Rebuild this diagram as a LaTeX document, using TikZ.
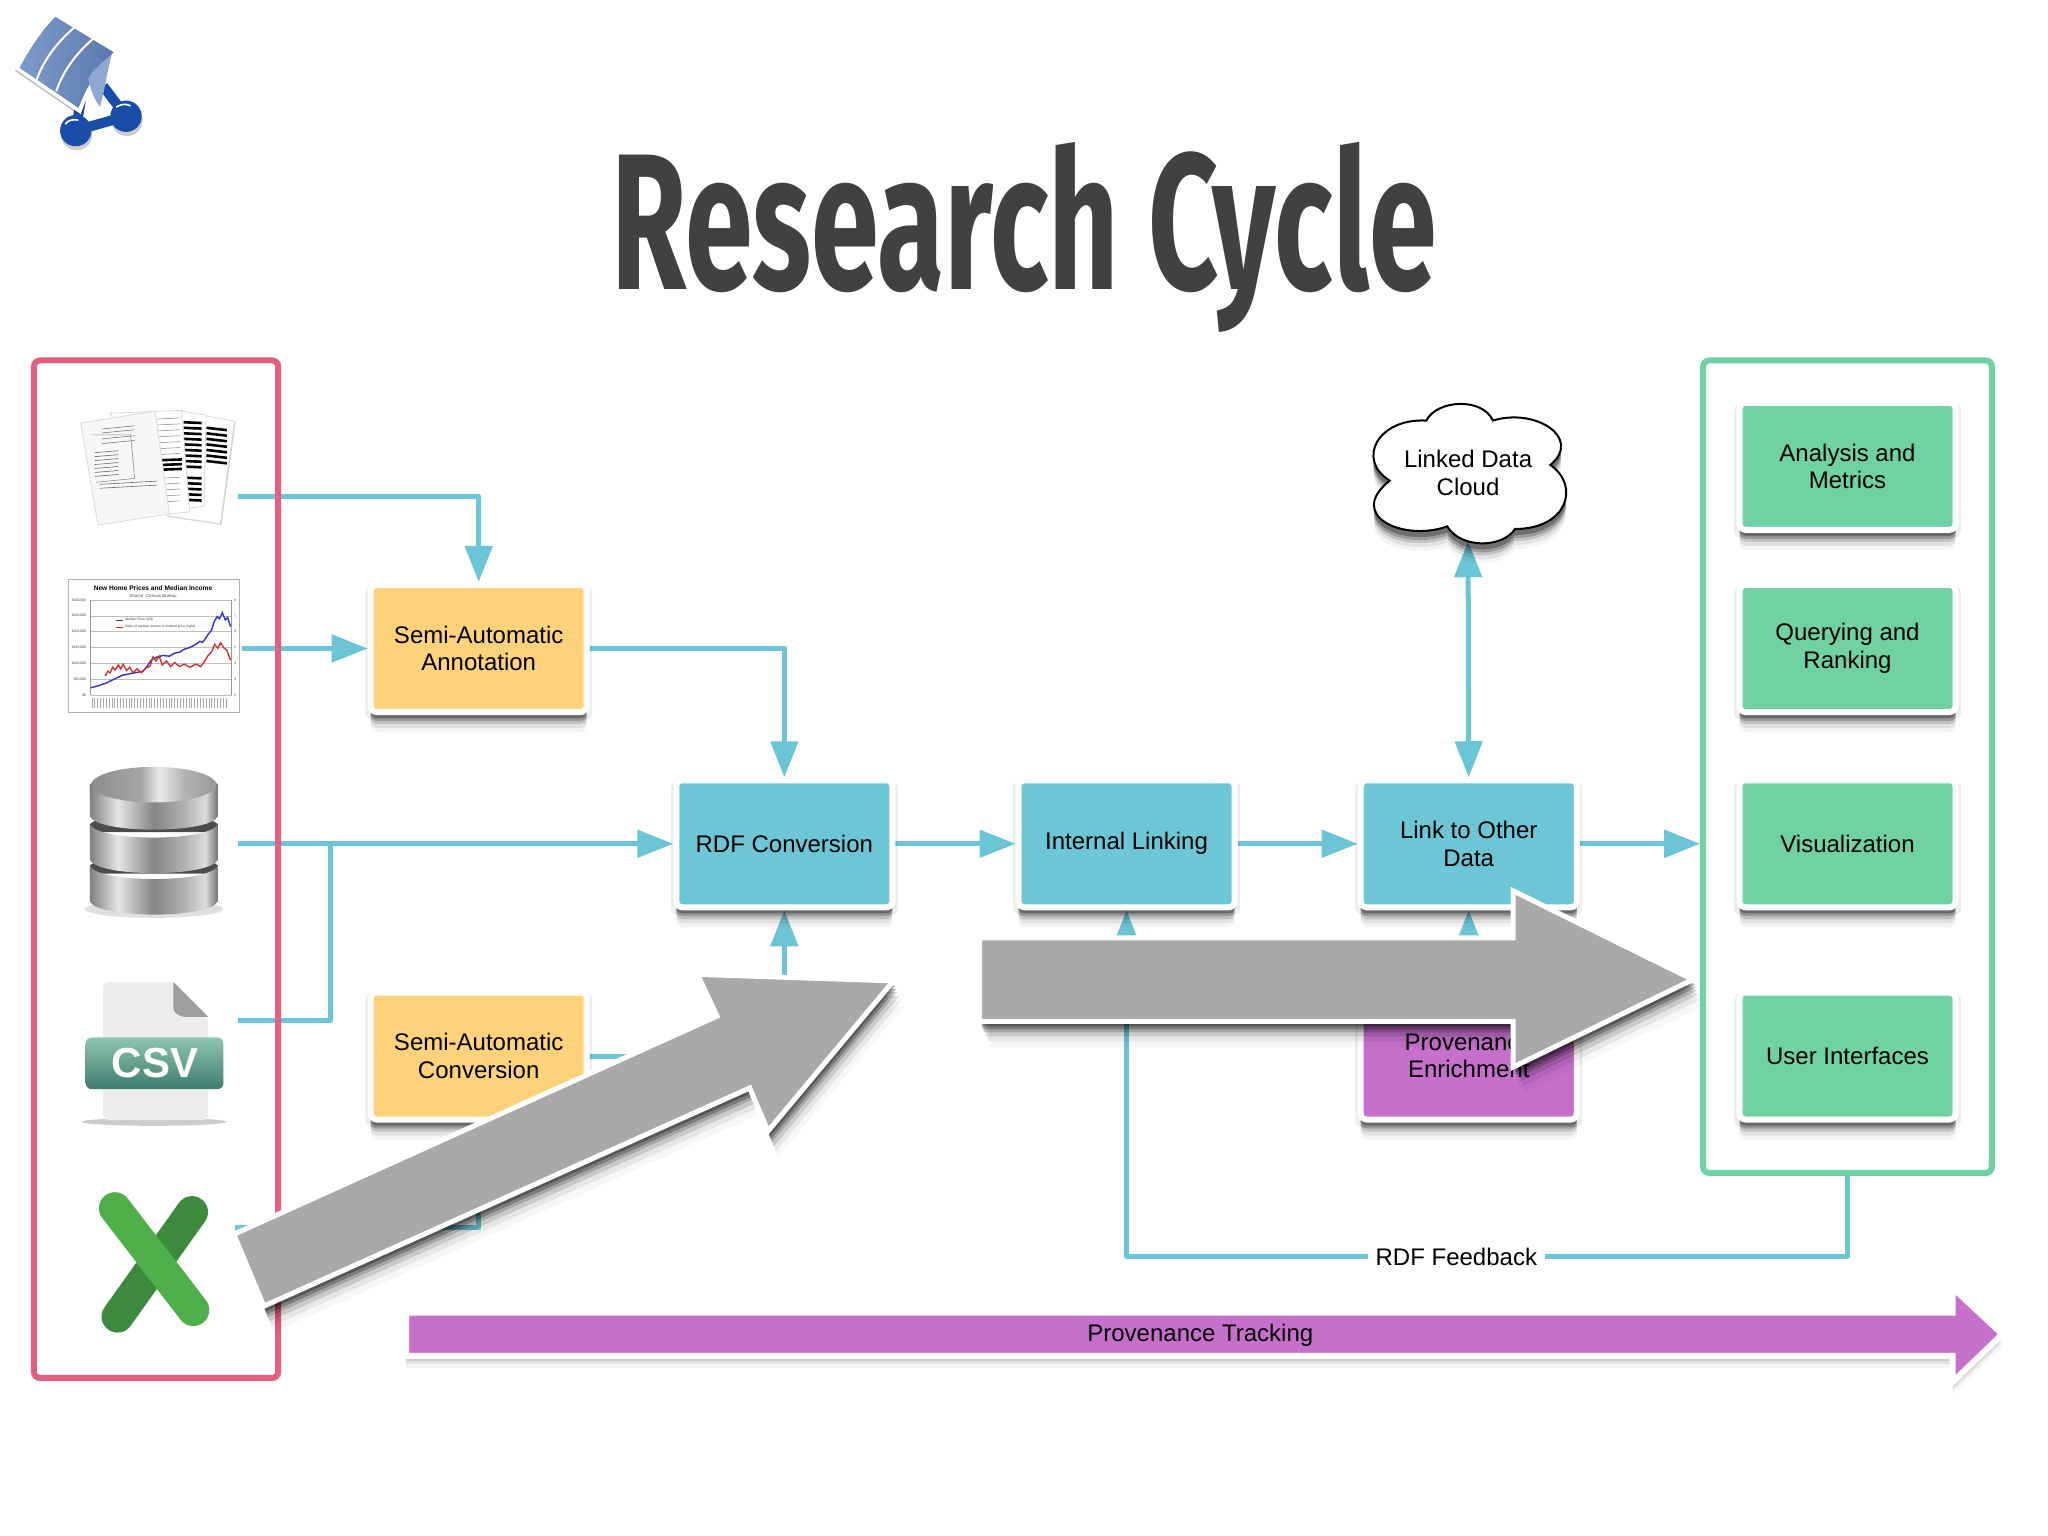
\documentclass[tikz,border=0pt]{standalone}
\usepackage{fontspec}
\setmainfont{Liberation Sans}
\newfontfamily\titlefont{Fira Sans}
\usetikzlibrary{arrows.meta,shadows}
\definecolor{linkcol}{HTML}{6CC5D6}
\definecolor{redframe}{HTML}{E2607F}
\definecolor{greenbox}{HTML}{70D2A3}
\definecolor{yellowbox}{HTML}{FDD27B}
\definecolor{bluebox}{HTML}{6DC6D6}
\definecolor{purplebox}{HTML}{C670CC}
\definecolor{bigarrow}{HTML}{A9A9AB}
\definecolor{titlecol}{HTML}{414042}
\definecolor{logoblue}{HTML}{1A4DA8}
\definecolor{logoleft}{HTML}{5B79AF}
\definecolor{logoright}{HTML}{7E9BCB}
\definecolor{logofold}{HTML}{8FA8D3}
\definecolor{csvtop}{HTML}{8FC4B0}
\definecolor{csvbot}{HTML}{3E7C6E}
\definecolor{xllight}{HTML}{4FB04B}
\definecolor{xldark}{HTML}{3C8A3E}
\pgfdeclarelayer{conn}
\pgfsetlayers{conn,main}
\pgfdeclarehorizontalshading{metal}{100bp}{color(0bp)=(black!50); color(25bp)=(black!50); color(36bp)=(black!10); color(50bp)=(black!48); color(62bp)=(black!30); color(70bp)=(black!14); color(75bp)=(black!55); color(100bp)=(black!55)}
\pgfdeclarehorizontalshading{metaltop}{100bp}{color(0bp)=(black!45); color(25bp)=(black!45); color(45bp)=(black!35); color(52bp)=(black!8); color(62bp)=(black!30); color(75bp)=(black!40); color(100bp)=(black!40)}
\tikzset{
    soft shadow/.style={
        drop shadow={shadow xshift=0pt,shadow yshift=-3pt,opacity=.28,fill=black},
        drop shadow={shadow xshift=0pt,shadow yshift=-4.5pt,opacity=.2,fill=black},
        drop shadow={shadow xshift=0pt,shadow yshift=-6pt,opacity=.14,fill=black},
        drop shadow={shadow xshift=0pt,shadow yshift=-8pt,opacity=.08,fill=black},
        drop shadow={shadow xshift=0pt,shadow yshift=-10pt,opacity=.04,fill=black}},
    light shadow/.style={
        drop shadow={shadow xshift=0pt,shadow yshift=-2.5pt,opacity=.1,fill=black},
        drop shadow={shadow xshift=0pt,shadow yshift=-4pt,opacity=.08,fill=black},
        drop shadow={shadow xshift=0pt,shadow yshift=-6pt,opacity=.04,fill=black}},
    arrow shadow/.style={
        drop shadow={shadow xshift=1pt,shadow yshift=-2.5pt,opacity=.3,fill=black},
        drop shadow={shadow xshift=1.5pt,shadow yshift=-4pt,opacity=.25,fill=black},
        drop shadow={shadow xshift=2pt,shadow yshift=-5.5pt,opacity=.18,fill=black},
        drop shadow={shadow xshift=3pt,shadow yshift=-7.5pt,opacity=.12,fill=black},
        drop shadow={shadow xshift=4pt,shadow yshift=-10pt,opacity=.07,fill=black},
        drop shadow={shadow xshift=5pt,shadow yshift=-13pt,opacity=.03,fill=black}},
    box/.style={rectangle,rounded corners=3pt,draw=white,line width=3pt,
        minimum width=108pt,minimum height=63.5pt,align=center,
        drop shadow={shadow scale=1.05,shadow xshift=0pt,shadow yshift=-2pt,opacity=.07,fill=black},
        soft shadow,font=\fontsize{12}{13.8}\selectfont},
    frame/.style={rectangle,rounded corners=3pt,line width=3pt},
    conn/.style={draw=linkcol,line width=2.5pt,line join=round},
    tip/.style={-{Triangle[length=18pt,width=13.5pt]}},
    big/.style={fill=bigarrow,draw=white,line width=2.5pt,arrow shadow},
    tiny/.style={inner sep=0pt,text=black!75,font=\fontsize{1.7}{2}\selectfont},
}
\begin{document}
\begin{tikzpicture}[x=.653pt,y=-.653pt]
    \useasboundingbox (0,0) rectangle (1568,1176);

    % logo
    \draw[logoblue,line width=5pt] (58,100) -- (96.5,89) (58,100) -- (64,64) (96.5,89) -- (79,66);
    \fill[logoblue,drop shadow={shadow xshift=.5pt,shadow yshift=-2pt,opacity=.2,fill=black}] (58,100) circle (12);
    \fill[logoblue,drop shadow={shadow xshift=.5pt,shadow yshift=-2pt,opacity=.2,fill=black}] (96.5,89) circle (12);
    \draw[white,line width=.8pt] (50,95) .. controls (52,92) and (56,91) .. (60,92);
    \draw[white,line width=.8pt] (89,82) .. controls (92,80) and (96,79) .. (100,81);
    \draw[white,line width=2pt,fill=logoleft,
          drop shadow={shadow xshift=-1pt,shadow yshift=-1.5pt,opacity=.25,fill=black}]
        (42,11) -- (89,40) .. controls (76,52) and (66,70) .. (61,85) -- (13,52) .. controls (21,38) and (29,24) .. (42,11) -- cycle;
    \shade[left color=logoright,right color=logoleft] (42.5,13) -- (87,40) .. controls (75,52) and (65,69) .. (60,82.5) -- (15,52) .. controls (23,38) and (31,25) .. (42.5,13) -- cycle;
    \draw[white,line width=1pt] (57,21) .. controls (44,32) and (34,45) .. (28,61);
    \draw[white,line width=1pt] (71,30) .. controls (58,41) and (48,55) .. (43,70);
    \fill[logofold] (85.5,42) .. controls (75,50) and (69,56) .. (67.6,61) .. controls (70,70) and (72,76) .. (76.6,81.7) .. controls (80,70) and (82,55) .. (85.5,42) -- cycle;

    \node[anchor=base,text=titlecol,inner sep=0pt] (title) at (784,222)
        {\scalebox{.63}[1]{\titlefont\fontsize{97}{97}\selectfont\bfseries Research Cycle}};

    % frames
    \node[frame,draw=redframe,minimum width=122.1pt,minimum height=508.7pt] (sources) at (119.5,665.5) {};
    \node[frame,draw=greenbox,minimum width=144.3pt,minimum height=406.2pt] (outputs) at (1414.5,587) {};

    % boxes
    \node[box,fill=yellowbox] (annot) at (366.5,496.5) {Semi-Automatic\\Annotation};
    \node[box,fill=yellowbox] (conv) at (366.5,808.5) {Semi-Automatic\\Conversion};
    \node[box,fill=bluebox] (rdf) at (600.5,646) {RDF Conversion};
    \node[box,fill=bluebox] (internal) at (862.5,646) {Internal Linking};
    \node[box,fill=bluebox] (link) at (1124.5,646) {Link to Other\\Data};
    \node[box,fill=purplebox] (prov) at (1124.5,808.5) {Provenance\\Enrichment};
    \node[box,fill=greenbox] (analysis) at (1414.5,357) {Analysis and\\Metrics};
    \node[box,fill=greenbox] (query) at (1414.5,496.5) {Querying and\\Ranking};
    \node[box,fill=greenbox] (vis) at (1414.5,646) {Visualization};
    \node[box,fill=greenbox] (ui) at (1414.5,808.5) {User Interfaces};

    % cloud
    \draw[fill=white,line width=1pt,soft shadow]
        (1064,368) .. controls (1038,352) and (1055,320) .. (1092,322)
        .. controls (1100,306) and (1135,304) .. (1143,322)
        .. controls (1175,312) and (1212,335) .. (1187,356)
        .. controls (1210,372) and (1200,405) .. (1160,405)
        .. controls (1150,420) and (1118,420) .. (1108,403)
        .. controls (1075,415) and (1030,395) .. (1064,368) -- cycle;
    \node[align=center,minimum height=68pt,font=\fontsize{12}{13.8}\selectfont] (cloud) at (1124,362) {Linked Data\\Cloud};

    \coordinate (docs out) at (182,380);
    \coordinate (chart out) at (185,496.5);
    \coordinate (db out) at (182,646);
    \coordinate (csv out) at (182,781);
    \coordinate (excel out) at (180,940);
    \coordinate (db tap) at (253,646);
    \coordinate (fb turn) at (862.5,962);

    % connectors go under the frames
    \begin{pgfonlayer}{conn}
        \draw[conn,tip] (docs out) -| (annot.north);
        \draw[conn,tip] (chart out) -- (annot.west);
        \draw[conn,tip] (db out) -- (rdf.west);
        \draw[conn] (csv out) -| (db tap);
        \draw[conn,tip] (annot.east) -| (rdf.north);
        \draw[conn,tip] (conv.east) -| (rdf.south);
        \draw[conn,tip] (excel out) -| (conv.south);
        \draw[conn,tip] (rdf.east) -- (internal.west);
        \draw[conn,tip] (internal.east) -- (link.west);
        \draw[conn,tip] (link.east) -- (link.east -| outputs.west);
        \draw[conn,tip] (prov.north) -- (link.south);
        \draw[conn,{Triangle[length=18pt,width=13.5pt]}-{Triangle[length=18pt,width=13.5pt]}] (link.north) -- (cloud.south);
        \draw[conn,tip] (outputs.south) |- (fb turn) -- (internal.south);
    \end{pgfonlayer}
    \node[fill=white,inner xsep=4pt,inner ysep=1pt,font=\fontsize{12}{13.8}\selectfont] (feedback) at (1115,962) {RDF Feedback};

    % documents, chart, database
    \begin{scope}[x=.204pt,y=-.1976pt,yshift=-170pt]
        \fill[white,draw=black!15,drop shadow={shadow xshift=.5pt,shadow yshift=-.5pt,opacity=.2,fill=black}] (505,192) -- (575,205) -- (540,465) -- (410,445) -- cycle;
        \foreach \y in {222,236,...,308} \draw[black,line width=1.3pt] (506,\y) -- (556,\y+6);
        \fill[white,draw=black!15] (445,180) -- (505,190) -- (500,420) -- (440,430) -- cycle;
        \foreach \y in {208,222,...,320,348,362,...,404} \draw[black,line width=1.3pt] (450,\y) -- (494,\y+2);
        \fill[white,draw=black!15] (270,185) -- (445,178) -- (465,435) -- (415,440) -- cycle;
        \foreach \y in {304,316,328} \draw[black,line width=1.3pt] (396,\y) -- (446,\y-2);
        \foreach \y in {200,215,...,290,350,365,...,410} \draw[black!50,line width=.25pt] (385,\y) -- (442,\y-3);
        \fill[black!3,draw=black!15] (198,210) -- (380,180) -- (415,440) -- (240,468) -- cycle;
        \foreach \y in {225,235,250,262} \draw[black!60,line width=.25pt] (250,\y) -- (330,\y-8);
        \foreach \y in {285,295,...,345} \draw[black!60,line width=.3pt] (232,\y) -- (290,\y-5);
        \draw[black!45,line width=.3pt] (225,240) -- (320,240) -- (330,350) -- (235,360);
        \foreach \y in {365,375} \draw[black!60,line width=.3pt] (245,\y) -- (385,\y-8);

        \draw[black!30,fill=white,line width=.5pt] (167,607) rectangle (587,942);
        \node[inner sep=0pt,font=\fontsize{3.3}{4}\selectfont\bfseries] (chart title) at (375,628) {New Home Prices and Median Income};
        \node[inner sep=0pt,text=black!70,font=\fontsize{2.2}{3}\selectfont] (chart source) at (375,647) {Source: Census Bureau};
        \foreach \y/\v/\r in {658/\$300{,}000/8,698/\$250{,}000/7,738/\$200{,}000/6,778/\$150{,}000/5,818/\$100{,}000/4,858/\$50{,}000/3,898/\$0/2} {
            \draw[black!25,line width=.3pt] (222,\y) -- (568,\y);
            \node[tiny,anchor=east] at (212,\y) {\v};
            \node[tiny] at (577,\y) {\r};
        }
        \draw[black!40,line width=.4pt] (222,658) -- (222,898) (568,658) -- (568,898);
        \foreach \x in {225,232,...,560} \draw[black!35,line width=.3pt] (\x,905) -- (\x,930);
        \draw[blue!60!gray,line width=.3pt] (284,708) -- (302,708);
        \node[tiny,anchor=west] at (306,708) {Median Price (left)};
        \draw[red!70!gray,line width=.3pt] (284,726) -- (302,726);
        \node[tiny,anchor=west] at (306,726) {Ratio of median income to median price (right)};
        \draw[blue!60!gray,line width=.7pt]
            (222,880) -- (240,875) -- (260,868) -- (280,858) -- (300,848) -- (320,844) -- (340,840) -- (350,838) -- (360,826) -- (372,808) -- (385,802) -- (400,798) -- (415,800) -- (428,792) -- (440,790) -- (452,782) -- (465,778) -- (480,770) -- (490,762) -- (497,765) -- (510,745) -- (518,735) -- (525,712) -- (532,700) -- (538,705) -- (545,690) -- (552,708) -- (558,702) -- (565,725);
        \draw[red!60!gray,line width=.7pt]
            (258,850) -- (264,838) -- (270,842) -- (276,828) -- (282,835) -- (290,822) -- (296,832) -- (302,820) -- (310,836) -- (318,828) -- (326,842) -- (336,832) -- (346,842) -- (358,830) -- (368,825) -- (375,802) -- (382,812) -- (390,800) -- (398,822) -- (408,812) -- (418,826) -- (428,816) -- (440,826) -- (452,820) -- (465,828) -- (480,820) -- (492,826) -- (502,812) -- (510,798) -- (518,790) -- (526,770) -- (534,780) -- (541,766) -- (548,778) -- (556,785) -- (565,810);

        % stacked disks, bottom one first
        \fill[black!12] (377,1440) ellipse [x radius=170,y radius=22];
        \foreach \t/\b in {1330/1420,1225/1315,1125/1205} {
            \fill[black!70] (220,\t) .. controls (240,\t-30) and (514,\t-30) .. (534,\t) -- (534,\t+20) -- (220,\t+20) -- cycle;
            \shade[shading=metal]
                (220,\t) -- (220,\b) .. controls (240,\b+45) and (514,\b+45) .. (534,\b) -- (534,\t) .. controls (514,\t+45) and (240,\t+45) .. (220,\t) -- cycle;
        }
        \shade[shading=metaltop]
            (222,1125) .. controls (240,1065) and (514,1065) .. (532,1125) .. controls (514,1185) and (240,1185) .. (222,1125) -- cycle;
    \end{scope}

    % csv file
    \begin{scope}[x=.3061pt,y=-.1667pt,yshift=-470pt]
        \fill[black!20] (252,545) ellipse [x radius=118,y radius=12];
        \fill[black!7,rounded corners=3pt] (168,125) -- (283,125) -- (340,230) -- (340,540) -- (168,540) -- cycle;
        \fill[black!38] (283,125) -- (340,230) -- (300,230) .. controls (288,225) and (283,215) .. (283,200) -- cycle;
        \shade[top color=csvtop,bottom color=csvbot,rounded corners=3pt] (140,292) rectangle (365,447);
        \node[text=white,inner sep=0pt,font=\fontsize{21}{21}\selectfont\bfseries] (csv label) at (253,368) {CSV};
    \end{scope}

    % excel cross
    \draw[xldark,line width=16pt,line cap=round] (147,928) -- (90,1008);
    \draw[xllight,line width=16pt,line cap=round] (88,925) -- (148,1003);

    % big arrows over everything
    \draw[big] (179,945) -- (202,1000) -- (574,833) -- (588,866) -- (684,751) -- (534,746) -- (549,778) -- cycle;
    \draw[big] (750,718) -- (750,782) -- (1158.5,782) -- (1158.5,817) -- (1296,750) -- (1158.5,682) -- (1158.5,718) -- cycle;

    % provenance bar
    \draw[draw=white,fill=purplebox,line width=3pt,light shadow]
        (311,1005) -- (1495,1005) -- (1495,986) -- (1533,1021.5) -- (1495,1058) -- (1495,1038) -- (311,1038) -- cycle;
    \node[inner sep=0pt,font=\fontsize{12}{13.8}\selectfont] (provbar) at (919,1022) {Provenance Tracking};
\end{tikzpicture}
\end{document}
